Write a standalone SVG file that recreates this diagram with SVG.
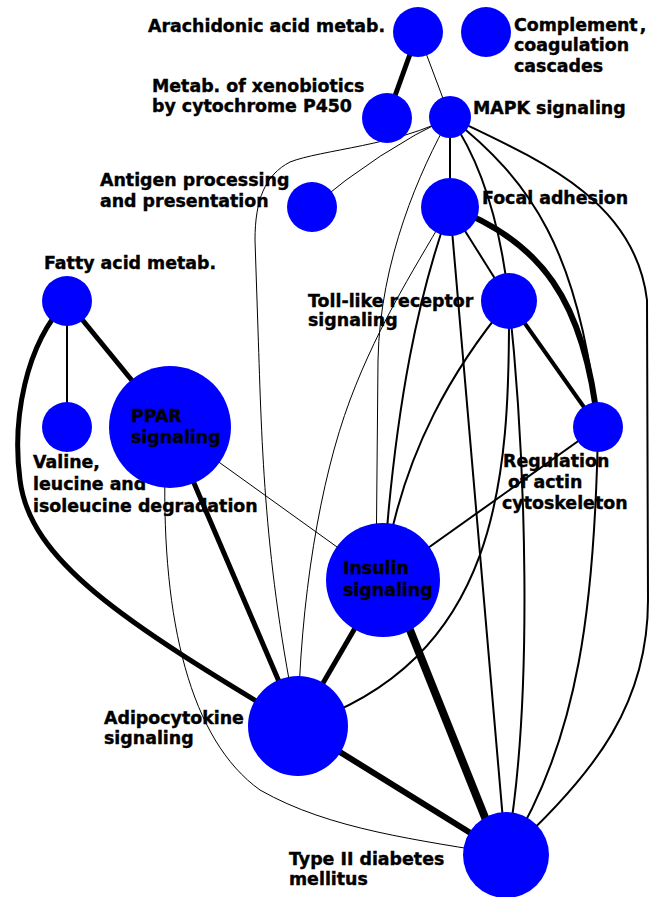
<svg xmlns="http://www.w3.org/2000/svg" width="650" height="897" viewBox="0 0 650 897">
<style>
.n{fill:#0000FF;stroke:none}
.e{fill:none;stroke:#000;stroke-linecap:butt}
.t1{stroke-width:1}
.t2{stroke-width:2}
.t4{stroke-width:4}
.t5{stroke-width:5}
.t6{stroke-width:6}
.t8{stroke-width:8}
text{font-family:"DejaVu Sans","Noto Sans CJK SC",sans-serif;font-weight:bold;font-size:17.4px;fill:#000;stroke:#000;stroke-width:0.4}
</style>
<rect x="0" y="0" width="650" height="897" fill="#fff"/>
<g id="connectors">
<path class="e t5" d="M418,32 L387,118"/>
<path class="e t1" d="M418,32 L450,117"/>
<path class="e t1" d="M450,117 Q380,150 312,207"/>
<path class="e t1" d="M450,117 C400,145 320,150 290,162 C265,175 255,200 255,240 L258,330 C262,450 264,560 298,726"/>
<path class="e t1" d="M450,117 C420,170 380,260 378,360 L376,580"/>
<path class="e t1" d="M450,207 C420,260 380,320 350,400 C320,480 300,600 298,726"/>
<path class="e t1" d="M170,427 L383,580"/>
<path class="e t1" d="M165,470 C162,620 190,740 260,790 C330,830 420,840 506,855"/>
<path class="e t2" d="M450,117 L450,207"/>
<path class="e t2" d="M450,117 C480,160 500,220 509,301"/>
<path class="e t2" d="M450,117 C530,180 580,250 598,427"/>
<path class="e t2" d="M450,117 C540,160 635,200 647,300 L648,600 C648,700 600,770 506,855"/>
<path class="e t2" d="M450,207 C420,290 395,400 383,580"/>
<path class="e t2" d="M450,207 L506,855"/>
<path class="e t2" d="M450,207 L509,301"/>
<path class="e t6" d="M450,207 C540,240 585,300 598,427"/>
<path class="e t2" d="M509,301 C460,360 400,450 383,580"/>
<path class="e t2" d="M509,301 C510,480 500,660 298,726"/>
<path class="e t2" d="M509,301 C525,450 535,700 506,855"/>
<path class="e t4" d="M509,301 L598,427"/>
<path class="e t2" d="M598,427 L383,580"/>
<path class="e t2" d="M598,427 C595,600 580,740 506,855"/>
<path class="e t8" d="M390,580 L500,855"/>
<path class="e t5" d="M383,580 L298,726"/>
<path class="e t6" d="M298,726 L506,855"/>
<path class="e t5" d="M170,427 L298,726"/>
<path class="e t2" d="M67,301 L67,427"/>
<path class="e t5" d="M67,301 L170,427"/>
<path class="e t5" d="M67,301 C25,345 12,420 20,480 C30,560 120,620 298,726"/>
</g>
<g id="arachidonic"><circle class="n" cx="418" cy="32" r="25"/><text x="148" y="32">Arachidonic acid metab.</text></g>
<g id="complement"><circle class="n" cx="486" cy="32" r="25"/><text x="514" y="31">Complement<tspan dx="2">,</tspan></text><text x="514" y="51">coagulation</text><text x="514" y="72">cascades</text></g>
<g id="xenobiotics"><circle class="n" cx="387" cy="118" r="25"/><text x="152" y="92">Metab. of xenobiotics</text><text x="152" y="112">by cytochrome P450</text></g>
<g id="mapk"><circle class="n" cx="450" cy="117" r="21"/><text x="473" y="114">MAPK signaling</text></g>
<g id="antigen"><circle class="n" cx="312" cy="207" r="25"/><text x="100" y="186">Antigen processing</text><text x="100" y="207">and presentation</text></g>
<g id="focal"><circle class="n" cx="450" cy="207" r="29"/><text x="482" y="204">Focal adhesion</text></g>
<g id="fatty"><circle class="n" cx="67" cy="301" r="25"/><text x="44" y="269">Fatty acid metab.</text></g>
<g id="toll"><circle class="n" cx="509" cy="301" r="28"/><text x="308" y="307">Toll-like receptor</text><text x="308" y="326">signaling</text></g>
<g id="valine"><circle class="n" cx="67" cy="427" r="25"/><text x="33" y="468">Valine,</text><text x="33" y="490">leucine and</text><text x="33" y="512">isoleucine degradation</text></g>
<g id="ppar"><circle class="n" cx="170" cy="427" r="61"/><text x="131" y="422">PPAR</text><text x="131" y="443">signaling</text></g>
<g id="regulation"><circle class="n" cx="598" cy="427" r="25"/><text x="503" y="467">Regulation</text><text x="508" y="488">of actin</text><text x="502" y="509">cytoskeleton</text></g>
<g id="insulin"><circle class="n" cx="383" cy="580" r="57"/><text x="343" y="574">Insulin</text><text x="343" y="596">signaling</text></g>
<g id="adipocytokine"><circle class="n" cx="298" cy="726" r="50"/><text x="104" y="724">Adipocytokine</text><text x="104" y="744">signaling</text></g>
<g id="type2"><circle class="n" cx="506" cy="855" r="43"/><text x="289" y="865">Type II diabetes</text><text x="289" y="885">mellitus</text></g>
</svg>
